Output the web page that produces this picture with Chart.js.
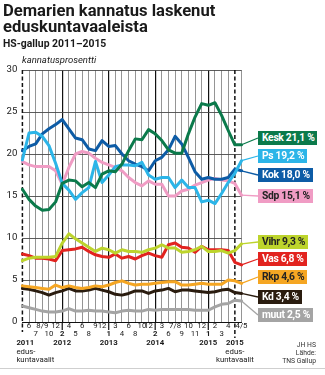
<!DOCTYPE html>
<html lang="fi">
<head>
<meta charset="utf-8">
<script src="https://cdn.jsdelivr.net/npm/chart.js@4.4.1/dist/chart.umd.min.js"></script>
<style>
  body { margin: 0; background: #fff; font-family: Roboto, 'Open Sans', sans-serif; color: #1a1a1a; }
  #wrap { position: relative; width: 325px; height: 375px; overflow: hidden; }
  #chart { position: absolute; left: 0; top: 0; }
  .title { position: absolute; left: 3px; top: 3px; font-size: 16.6px; line-height: 16px; font-weight: 700; white-space: nowrap; }
  .sub { position: absolute; left: 3px; top: 38.5px; font-size: 10.4px; line-height: 10px; font-weight: 700; white-space: nowrap; }
  .unit { position: absolute; left: 22px; top: 55px; font-size: 9.5px; line-height: 10px; font-style: italic; white-space: nowrap; }
  .src { position: absolute; right: 9px; top: 341px; font-size: 6.8px; line-height: 8px; text-align: right; color: #333; }
  .rule { position: absolute; left: 0; right: 0; top: 368px; height: 1px; background: #cfcfcf; }
  .tag { position: absolute; left: 258px; height: 14px; line-height: 14px; padding: 0 3px 0 4px; font-size: 10.3px; font-weight: 700; letter-spacing: -0.3px; white-space: nowrap; }
</style>
</head>
<body>
<div id="wrap">
  <canvas id="chart" width="325" height="375"></canvas>
  <div class="title">Demarien kannatus laskenut<br>eduskuntavaaleista</div>
  <div class="sub">HS-gallup 2011–2015</div>
  <div class="unit">kannatusprosentti</div>
  <div class="src">JH HS<br>Lähde:<br>TNS Gallup</div>
  <div class="rule"></div>
</div>
<script>
// --- DATA ---
// gallup months ('' = election result)
const polls = ['', '6', '7', '8/9', '10', '12', '2', '4', '5', '6', '8', '9', '12', '1', '3', '4', '6', '8', '10', '12', '2', '3', '6', '7/8', '9', '10', '11', '12', '1', '2', '3', '4', '', '4/5'];
const years = ['2011', '', '', '', '', '', '2012', '', '', '', '', '', '', '2013', '', '', '', '', '', '', '2014', '', '', '', '', '', '', '', '2015', '', '', '', '2015', ''];
const electionNote = ['edus-', 'kuntavaalit'];
const yTicks = [0, 5, 10, 15, 20, 25, 30];

const parties = ['Kesk', 'Ps', 'Kok', 'Sdp', 'Vihr', 'Vas', 'Rkp', 'Kd', 'muut'];
const kesk = [15.8, 14.6, 13.8, 13.3, 13.4, 14.3, 16.5, 16.9, 16.8, 16.1, 16.6, 16.0, 17.6, 18.0, 17.9, 18.8, 20.4, 21.8, 21.7, 22.9, 22.4, 21.6, 20.5, 20.1, 20.1, 22.4, 24.4, 26.0, 25.8, 26.1, 24.6, 22.8, 21.1, 21.1];
const ps = [19.3, 22.5, 22.6, 22.1, 21.0, 18.9, 16.5, 15.7, 14.6, 15.4, 16.0, 19.1, 16.6, 17.5, 18.5, 18.7, 18.7, 18.6, 19.0, 17.5, 17.0, 17.2, 17.2, 16.0, 16.9, 16.0, 16.0, 14.3, 14.5, 14.1, 15.3, 16.6, 17.7, 19.2];
const kok = [20.4, 20.9, 21.2, 22.4, 23.0, 23.5, 24.1, 23.0, 21.9, 21.7, 20.6, 20.4, 21.6, 20.9, 21.0, 20.0, 19.2, 18.8, 18.5, 18.0, 19.2, 19.6, 20.5, 22.1, 21.2, 19.6, 17.9, 17.0, 17.2, 17.0, 17.0, 17.2, 18.2, 18.0];
const sdp = [19.1, 18.7, 18.5, 18.5, 18.5, 18.0, 16.4, 18.4, 20.0, 20.3, 20.1, 19.5, 19.0, 18.7, 18.4, 18.0, 17.2, 16.6, 16.2, 16.8, 16.4, 16.4, 15.0, 15.0, 15.6, 15.8, 16.3, 16.6, 16.9, 17.1, 16.9, 16.8, 16.5, 15.1];
const vihr = [7.3, 7.6, 7.7, 7.7, 7.7, 7.8, 9.4, 10.5, 9.9, 9.4, 8.9, 8.4, 8.8, 8.6, 8.2, 8.6, 8.4, 8.4, 8.3, 8.6, 8.8, 9.2, 8.8, 8.8, 8.3, 8.4, 8.6, 9.0, 8.4, 8.4, 8.5, 8.2, 8.5, 9.3];
const vas = [8.1, 7.9, 7.6, 7.6, 7.5, 7.3, 8.5, 8.6, 8.7, 8.9, 8.4, 8.0, 7.8, 7.7, 8.1, 7.6, 7.8, 7.5, 7.9, 8.2, 7.9, 7.7, 9.2, 9.4, 8.9, 8.8, 8.3, 9.0, 8.6, 8.6, 8.6, 8.5, 7.1, 6.8];
const rkp = [4.3, 4.2, 4.1, 4.0, 3.9, 4.4, 4.1, 4.3, 4.1, 4.0, 4.1, 4.3, 4.2, 4.4, 4.7, 4.9, 4.6, 4.4, 4.5, 4.5, 4.6, 4.7, 4.8, 4.8, 4.4, 4.4, 4.5, 4.6, 4.5, 4.5, 4.5, 5.0, 4.9, 4.6];
const kd = [4.0, 3.9, 3.7, 3.5, 3.2, 3.5, 3.7, 4.0, 3.7, 3.7, 3.8, 4.0, 3.8, 3.6, 3.3, 3.2, 3.4, 3.7, 3.7, 3.4, 3.7, 3.8, 4.0, 3.6, 3.8, 3.8, 3.7, 3.6, 3.5, 3.6, 3.8, 3.9, 3.5, 3.4];
const muut = [1.9, 1.7, 1.5, 1.3, 1.2, 1.2, 1.3, 1.6, 1.3, 1.3, 1.4, 1.3, 1.3, 1.2, 1.1, 1.3, 1.4, 1.3, 1.3, 1.5, 1.4, 1.5, 1.5, 1.5, 1.5, 1.5, 1.4, 1.4, 1.4, 1.8, 2.1, 2.2, 2.6, 2.5];
const series = [kesk, ps, kok, sdp, vihr, vas, rkp, kd, muut];

// --- TYYLIT ---
const colors = ['#0b7a4b', '#2cb5e8', '#0d5ca6', '#f09cc4', '#bdd42c', '#e2231f', '#f5a623', '#2a1c0f', '#a4a4a4'];
const tagInk = ['#fff', '#fff', '#fff', '#222', '#222', '#fff', '#222', '#fff', '#fff'];
const tagTop = [131, 149, 168, 189, 235, 252, 270, 290, 308];
const FONT = 'Roboto, "Open Sans", sans-serif';

const isElection = i => polls[i] === '';
const isYearStart = i => years[i] !== '' && polls[i] !== '';

// alempi rivi: vuoden ensimmäinen gallup, muuten vuorotellen
function lowRow(i) {
  if (isYearStart(i)) return true;
  if (years[i + 1]) return false;
  let p = i - 1;
  while (p > 0 && !years[p]) p--;
  return (i - p) % 2 === 0;
}

// --- LABEL BOXES ---
const wrap = document.getElementById('wrap');
parties.forEach((name, i) => {
  const last = series[i][series[i].length - 1];
  const el = document.createElement('div');
  el.className = 'tag';
  el.textContent = name + ' ' + last.toFixed(1).replace('.', ',') + ' %';
  el.style.top = tagTop[i] + 'px';
  el.style.background = colors[i];
  el.style.color = tagInk[i];
  wrap.appendChild(el);
});

// --- PLUGIN: vaaliviivat, x-tekstit, yhdysviivat ---
const decor = {
  id: 'decor',
  beforeDatasetsDraw(chart) {
    const { ctx, chartArea: a, scales: { x } } = chart;
    ctx.save();
    polls.forEach((p, i) => {
      const px = x.getPixelForValue(i);
      if (isYearStart(i)) {
        ctx.strokeStyle = '#111';
        ctx.lineWidth = 1.2;
        ctx.beginPath();
        ctx.moveTo(px, a.bottom);
        ctx.lineTo(px, a.bottom + 8);
        ctx.stroke();
      }
      if (isElection(i)) {
        ctx.strokeStyle = '#111';
        ctx.lineWidth = 1.5;
        ctx.setLineDash([4, 2.5]);
        ctx.beginPath();
        ctx.moveTo(px, a.top);
        ctx.lineTo(px, a.bottom + (i === 0 ? 10 : 16));
        ctx.stroke();
        ctx.setLineDash([]);
      }
    });
    ctx.restore();
  },
  afterDraw(chart) {
    const { ctx, chartArea: a, scales: { x, y } } = chart;
    ctx.save();
    ctx.textBaseline = 'middle';
    ctx.fillStyle = '#1a1a1a';
    polls.forEach((p, i) => {
      const px = x.getPixelForValue(i);
      const first = i === 0;
      if (p) {
        ctx.textAlign = 'center';
        ctx.font = (isYearStart(i) ? '700 ' : '') + '7.8px ' + FONT;
        ctx.fillText(p, px, a.bottom + (lowRow(i) ? 12 : 4.5));
      }
      if (years[i]) {
        ctx.textAlign = first ? 'left' : 'center';
        const tx = first ? px - 6 : px;
        ctx.font = '700 7.8px ' + FONT;
        ctx.fillText(years[i], tx, a.bottom + 21);
        if (isElection(i)) {
          ctx.font = '7.8px ' + FONT;
          ctx.fillText(electionNote[0], tx, a.bottom + 30);
          ctx.fillText(electionNote[1], tx, a.bottom + 38.5);
        }
      }
    });
    // yhdysviivat laatikoihin
    series.forEach((s, i) => {
      const last = s.length - 1;
      const px = x.getPixelForValue(last);
      const py = y.getPixelForValue(s[last]);
      ctx.strokeStyle = colors[i];
      ctx.lineWidth = 1.3;
      ctx.beginPath();
      ctx.moveTo(px, py);
      ctx.lineTo(258, tagTop[i] + 7);
      ctx.stroke();
    });
    ctx.restore();
  }
};

// --- CHART ---
new Chart(document.getElementById('chart'), {
  type: 'line',
  data: {
    labels: polls,
    datasets: parties.map((name, i) => ({
      label: name,
      data: series[i],
      borderColor: colors[i],
      backgroundColor: colors[i]
    }))
  },
  options: {
    responsive: false,
    animation: false,
    layout: { padding: { left: 0, right: 83.5, top: 70, bottom: 53 } },
    plugins: { legend: { display: false }, tooltip: { enabled: false } },
    elements: {
      point: { radius: 0 },
      line: { borderWidth: 3, tension: 0, borderCapStyle: 'round', borderJoinStyle: 'round' }
    },
    scales: {
      x: {
        type: 'category',
        offset: false,
        ticks: { display: false },
        grid: {
          drawTicks: false,
          color: c => isElection(c.index) ? 'rgba(0,0,0,0)' : (isYearStart(c.index) ? '#111' : '#7a7a7a'),
          lineWidth: c => isYearStart(c.index) ? 1.2 : 0.8
        },
        border: { color: '#111', width: 1 },
        afterFit: s => { s.height = 0; }
      },
      y: {
        min: 0,
        max: 30,
        afterBuildTicks: s => { s.ticks = yTicks.map(v => ({ value: v })); },
        ticks: { padding: 5, color: '#1a1a1a', font: { size: 9.6, family: FONT } },
        grid: { drawTicks: false, color: '#4a4a4a', lineWidth: 0.9 },
        border: { display: false },
        afterFit: s => { s.width = 22.4; }
      }
    }
  },
  plugins: [decor]
});
</script>
</body>
</html>
